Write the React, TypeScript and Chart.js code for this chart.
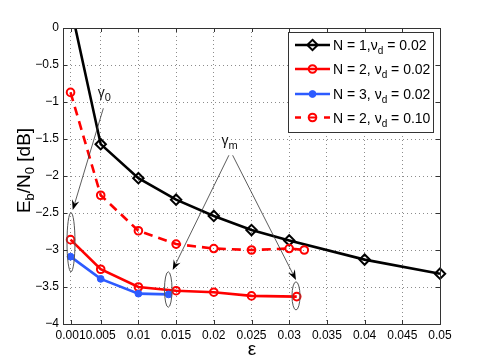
import React, { useEffect, useRef } from "react";
import { Chart, registerables } from "chart.js";

Chart.register(...registerables);

// ---- ticks ----
const xTicks = [0.001, 0.005, 0.01, 0.015, 0.02, 0.025, 0.03, 0.035, 0.04, 0.045, 0.05];
const xTickLabels = ["0.001", "0.005", "0.01", "0.015", "0.02", "0.025", "0.03", "0.035", "0.04", "0.045", "0.05"];
const yTicks = [0, -0.5, -1, -1.5, -2, -2.5, -3, -3.5, -4];
const yTickLabels = ["0", "\u22120.5", "\u22121", "\u22121.5", "\u22122", "\u22122.5", "\u22123", "\u22123.5", "\u22124"];

// ---- series ----
const epsN1 = [0.001, 0.005, 0.01, 0.015, 0.02, 0.025, 0.03, 0.04, 0.05];
const ebN1 = [0.3, -1.57, -2.03, -2.32, -2.54, -2.73, -2.87, -3.13, -3.32];
const epsN2 = [0.001, 0.005, 0.01, 0.015, 0.02, 0.025, 0.031];
const ebN2 = [-2.86, -3.26, -3.5, -3.55, -3.57, -3.62, -3.63];
const epsN3 = [0.001, 0.005, 0.01, 0.014];
const ebN3 = [-3.09, -3.39, -3.59, -3.6];
const epsN2b = [0.001, 0.005, 0.01, 0.015, 0.02, 0.025, 0.03, 0.032];
const ebN2b = [-0.87, -2.26, -2.74, -2.92, -2.98, -3.0, -2.98, -3.0];

// ---- legend text ----
const legendMain = ["N = 1,\u03bd", "N = 2, \u03bd", "N = 3, \u03bd", "N = 2, \u03bd"];
const legendSub = ["d", "d", "d", "d"];
const legendRest = [" = 0.02", " = 0.02", " = 0.02", " = 0.10"];

// ---- annotations (data coordinates) ----
const annLabels = [
  { x: 0.00547, y: -0.93, main: "\u03b3", sub: "0" },
  { x: 0.0221, y: -1.58, main: "\u03b3", sub: "m" },
];
const annArrows = [
  { x1: 0.00535, y1: -1.085, x2: 0.00129, y2: -2.46 },
  { x1: 0.022, y1: -1.72, x2: 0.01455, y2: -3.27 },
  { x1: 0.0225, y1: -1.72, x2: 0.0309, y2: -3.405 },
];
const annEllipses = [
  { x: 0.00106, y: -2.895, rx: 0.00053, ry: 0.4 },
  { x: 0.01396, y: -3.534, rx: 0.0005, ry: 0.24 },
  { x: 0.0309, y: -3.62, rx: 0.00053, ry: 0.19 },
];

const FONT = "'Liberation Sans', Arial, Helvetica, sans-serif";

const toPts = (xs: number[], ys: number[]) => xs.map((x, i) => ({ x, y: ys[i] }));

type Part = { t: string; size: number; dy: number };
function drawRich(ctx: CanvasRenderingContext2D, parts: Part[], x: number, y: number, align: "left" | "center") {
  let total = 0;
  for (const p of parts) {
    ctx.font = `${p.size}px ${FONT}`;
    total += ctx.measureText(p.t).width;
  }
  let cx = align === "center" ? x - total / 2 : x;
  ctx.textAlign = "left";
  ctx.textBaseline = "alphabetic";
  for (const p of parts) {
    ctx.font = `${p.size}px ${FONT}`;
    ctx.fillText(p.t, cx, y + p.dy);
    cx += ctx.measureText(p.t).width;
  }
}

function arrow(ctx: CanvasRenderingContext2D, x1: number, y1: number, x2: number, y2: number) {
  const dx = x2 - x1, dy = y2 - y1;
  const len = Math.hypot(dx, dy);
  const ux = dx / len, uy = dy / len;
  const nx = -uy, ny = ux;
  const L = 10, W = 3.8, notch = 6.5;
  ctx.beginPath();
  ctx.moveTo(x1, y1);
  ctx.lineTo(x2 - ux * notch, y2 - uy * notch);
  ctx.stroke();
  ctx.beginPath();
  ctx.moveTo(x2, y2);
  ctx.lineTo(x2 - ux * L + nx * W, y2 - uy * L + ny * W);
  ctx.lineTo(x2 - ux * notch, y2 - uy * notch);
  ctx.lineTo(x2 - ux * L - nx * W, y2 - uy * L - ny * W);
  ctx.closePath();
  ctx.fill();
}

const seriesStyles = [
  { color: "#000000", dash: [] as number[], style: "rectRot", radius: 5.2, fill: "rgba(0,0,0,0)", bw: 2 },
  { color: "#ff0000", dash: [] as number[], style: "circle", radius: 3.8, fill: "rgba(0,0,0,0)", bw: 2 },
  { color: "#2d5bff", dash: [] as number[], style: "circle", radius: 3.4, fill: "#2d5bff", bw: 1 },
  { color: "#ff0000", dash: [9, 6], style: "circle", radius: 3.8, fill: "rgba(0,0,0,0)", bw: 2 },
];

const bgPlugin = {
  id: "bg",
  beforeDraw(chart: any) {
    const ctx = chart.ctx;
    ctx.save();
    ctx.fillStyle = "#ffffff";
    ctx.fillRect(0, 0, chart.width, chart.height);
    ctx.restore();
  },
};

const overlayPlugin = {
  id: "overlay",
  afterDatasetsDraw(chart: any) {
    const ctx: CanvasRenderingContext2D = chart.ctx;
    const xs = chart.scales.x, ys = chart.scales.y;
    const { left, right, top, bottom } = chart.chartArea;
    ctx.save();
    // annotations
    ctx.strokeStyle = "#333";
    ctx.fillStyle = "#000";
    ctx.lineWidth = 0.8;
    for (const a of annArrows) {
      arrow(ctx, xs.getPixelForValue(a.x1), ys.getPixelForValue(a.y1), xs.getPixelForValue(a.x2), ys.getPixelForValue(a.y2));
    }
    ctx.strokeStyle = "#555";
    ctx.lineWidth = 1;
    for (const e of annEllipses) {
      const cx = xs.getPixelForValue(e.x), cy = ys.getPixelForValue(e.y);
      const rx = Math.abs(xs.getPixelForValue(e.x + e.rx) - cx);
      const ry = Math.abs(ys.getPixelForValue(e.y + e.ry) - cy);
      ctx.beginPath();
      ctx.ellipse(cx, cy, rx, ry, 0, 0, Math.PI * 2);
      ctx.stroke();
    }
    ctx.fillStyle = "#111";
    for (const l of annLabels) {
      drawRich(ctx, [
        { t: l.main, size: 14, dy: 0 },
        { t: l.sub, size: 11, dy: 4 },
      ], xs.getPixelForValue(l.x), ys.getPixelForValue(l.y), "center");
    }
    // box and inner ticks
    ctx.strokeStyle = "#333";
    ctx.lineWidth = 1;
    ctx.setLineDash([]);
    ctx.strokeRect(left + 0.5, top + 0.5, right - left, bottom - top);
    const tl = 4;
    ctx.beginPath();
    for (const v of xTicks) {
      const px = Math.round(xs.getPixelForValue(v)) + 0.5;
      ctx.moveTo(px, bottom); ctx.lineTo(px, bottom - tl);
      ctx.moveTo(px, top); ctx.lineTo(px, top + tl);
    }
    for (const v of yTicks) {
      const py = Math.round(ys.getPixelForValue(v)) + 0.5;
      ctx.moveTo(left, py); ctx.lineTo(left + tl, py);
      ctx.moveTo(right, py); ctx.lineTo(right - tl, py);
    }
    ctx.stroke();
    ctx.restore();
  },
  afterDraw(chart: any) {
    const ctx: CanvasRenderingContext2D = chart.ctx;
    const { left, right } = chart.chartArea;
    ctx.save();
    // axis titles
    ctx.fillStyle = "#000";
    drawRich(ctx, [{ t: "\u03b5", size: 19, dy: 0 }], (left + right) / 2 + 0.5, 355, "center");
    ctx.translate(29.5, 170.5);
    ctx.rotate(-Math.PI / 2);
    drawRich(ctx, [
      { t: "E", size: 19, dy: 0 },
      { t: "b", size: 13, dy: 4 },
      { t: "/N", size: 19, dy: 0 },
      { t: "0", size: 13, dy: 4 },
      { t: " [dB]", size: 19, dy: 0 },
    ], 0, 0, "center");
    ctx.setTransform(1, 0, 0, 1, 0, 0);
    // legend
    const bx = 288.5, by = 32.5, bw = 145, bh = 100;
    ctx.fillStyle = "#fff";
    ctx.fillRect(bx, by, bw, bh);
    ctx.strokeStyle = "#333";
    ctx.lineWidth = 1;
    ctx.strokeRect(bx, by, bw, bh);
    const rowsY = [45, 69, 94, 117.5];
    for (let i = 0; i < 4; i++) {
      const s = seriesStyles[i];
      const y = rowsY[i];
      ctx.strokeStyle = s.color;
      ctx.lineWidth = 2.6;
      ctx.beginPath();
      if (s.dash.length) {
        ctx.moveTo(295, y); ctx.lineTo(301, y);
        ctx.moveTo(324, y); ctx.lineTo(330, y);
      } else {
        ctx.moveTo(295, y); ctx.lineTo(330, y);
      }
      ctx.stroke();
      ctx.lineWidth = s.bw;
      ctx.fillStyle = s.fill;
      ctx.beginPath();
      if (s.style === "rectRot") {
        const r = s.radius;
        ctx.moveTo(312.5, y - r); ctx.lineTo(312.5 + r, y); ctx.lineTo(312.5, y + r); ctx.lineTo(312.5 - r, y); ctx.closePath();
      } else {
        ctx.arc(312.5, y, s.radius, 0, Math.PI * 2);
      }
      ctx.fill();
      ctx.stroke();
      if (s.dash.length) {
        ctx.lineWidth = 2;
        ctx.beginPath(); ctx.moveTo(309, y); ctx.lineTo(316, y); ctx.stroke();
      }
      ctx.fillStyle = "#000";
      drawRich(ctx, [
        { t: legendMain[i], size: 14, dy: 0 },
        { t: legendSub[i], size: 10, dy: 4 },
        { t: legendRest[i], size: 14, dy: 0 },
      ], 333, y + 5, "left");
    }
    ctx.restore();
  },
};

export default function App() {
  const ref = useRef<HTMLCanvasElement | null>(null);
  useEffect(() => {
    if (!ref.current) return;
    const all = [
      { label: "N = 1, vd = 0.02", data: toPts(epsN1, ebN1) },
      { label: "N = 2, vd = 0.02", data: toPts(epsN2, ebN2) },
      { label: "N = 3, vd = 0.02", data: toPts(epsN3, ebN3) },
      { label: "N = 2, vd = 0.10", data: toPts(epsN2b, ebN2b) },
    ];
    const datasets = all.map((d, i) => {
      const s = seriesStyles[i];
      return {
        label: d.label,
        data: d.data,
        borderColor: s.color,
        borderWidth: 2.6,
        borderDash: s.dash,
        pointStyle: s.style,
        pointRadius: s.radius,
        pointBorderWidth: s.bw,
        pointBorderColor: s.color,
        pointBackgroundColor: s.fill,
        tension: 0,
        fill: false,
        clip: { left: 8, right: 8, top: 0, bottom: 8 },
        order: 4 - i,
      };
    });
    const chart = new Chart(ref.current, {
      type: "line",
      data: { datasets } as any,
      options: {
        animation: false,
        responsive: false,
        devicePixelRatio: 1,
        layout: { padding: { left: 0, right: 45, top: 28, bottom: 0 } },
        plugins: { legend: { display: false }, tooltip: { enabled: false } },
        scales: {
          x: {
            type: "linear",
            min: 0,
            max: 0.05,
            afterBuildTicks: (s: any) => { s.ticks = xTicks.map((v) => ({ value: v })); },
            afterFit: (s: any) => { s.height = 40; },
            ticks: {
              autoSkip: false,
              maxRotation: 0,
              padding: 4,
              color: "#000",
              font: { family: FONT, size: 12 },
              callback: (_v: any, i: number) => xTickLabels[i],
            },
            grid: { color: "rgba(0,0,0,0.45)", lineWidth: 1, drawTicks: false } as any,
            border: { display: false, dash: [1, 3] },
          },
          y: {
            type: "linear",
            min: -4,
            max: 0,
            afterBuildTicks: (s: any) => { s.ticks = yTicks.map((v) => ({ value: v })); },
            afterFit: (s: any) => { s.width = 63; },
            ticks: {
              autoSkip: false,
              padding: 4,
              color: "#000",
              font: { family: FONT, size: 12 },
              callback: (_v: any, i: number) => yTickLabels[i],
            },
            grid: { color: "rgba(0,0,0,0.45)", lineWidth: 1, drawTicks: false } as any,
            border: { display: false, dash: [1, 3] },
          },
        },
      } as any,
      plugins: [bgPlugin, overlayPlugin],
    });
    return () => chart.destroy();
  }, []);
  return (
    <div style={{ position: "fixed", left: 0, top: 0, width: 485, height: 364, background: "#fff" }}>
      <canvas ref={ref} width={485} height={364} style={{ display: "block", width: 485, height: 364 }} />
    </div>
  );
}
